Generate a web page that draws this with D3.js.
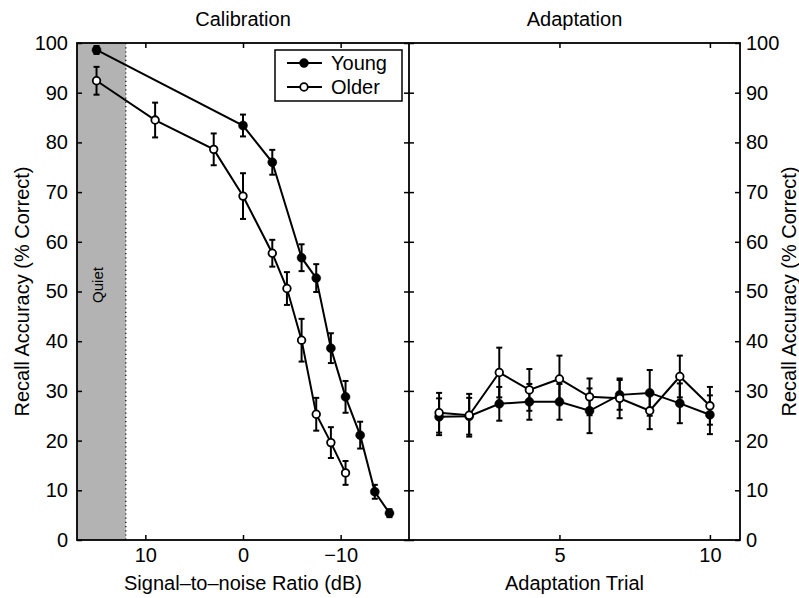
<!DOCTYPE html>
<html><head><meta charset="utf-8">
<script src="https://cdn.jsdelivr.net/npm/d3@7"></script>
<style>
html,body{margin:0;padding:0;background:#fff;}
svg text{font-family:"Liberation Sans",Arial,Helvetica,sans-serif;fill:#000;}
</style></head>
<body>
<svg id="chart" width="799" height="598"></svg>
<script>
// ---- Data ----
const snrYoung = [15, 0, -3, -6, -7.5, -9, -10.5, -12, -13.5, -15];
const accYoung = [98.6, 83.4, 76.0, 56.8, 52.7, 38.6, 28.8, 21.1, 9.7, 5.4];
const errYoung = [0.8, 2.2, 2.5, 2.7, 2.8, 3.0, 3.2, 2.7, 1.4, 0.8];

const snrOlder = [15, 9, 3, 0, -3, -4.5, -6, -7.5, -9, -10.5];
const accOlder = [92.4, 84.5, 78.6, 69.2, 57.7, 50.6, 40.2, 25.3, 19.6, 13.5];
const errOlder = [2.8, 3.5, 3.2, 4.6, 2.7, 3.3, 4.3, 3.3, 3.1, 2.4];

const trials = [1, 2, 3, 4, 5, 6, 7, 8, 9, 10];
const adaptYoung = [24.8, 24.9, 27.4, 27.8, 27.8, 26.0, 29.2, 29.6, 27.5, 25.2];
const adaptYoungErr = [3.7, 3.7, 3.4, 3.6, 3.6, 4.5, 3.0, 4.6, 4.0, 3.9];
const adaptOlder = [25.6, 25.1, 33.7, 30.2, 32.4, 28.8, 28.5, 26.0, 32.9, 27.0];
const adaptOlderErr = [4.0, 4.3, 5.0, 4.2, 4.7, 3.7, 4.0, 3.7, 4.2, 3.8];

const yTicks = [0, 10, 20, 30, 40, 50, 60, 70, 80, 90, 100];
const snrTicks = [10, 0, -10];
const snrTickLabels = ["10", "0", "\u221210"];
const trialTicks = [5, 10];
const quietBand = [17, 12];
const seriesNames = ["Young", "Older"];

// ---- Layout ----
const L = 77, M = 409, R = 740, T = 43, B = 540;
const svg = d3.select("#chart");
const xL = d3.scaleLinear().domain([17, -17]).range([L, M]);
const xR = d3.scaleLinear().domain([0, 11]).range([M, R]);
const y = d3.scaleLinear().domain([0, 100]).range([B, T]);
const FS = 20;

// quiet band
svg.append("rect").attr("x", xL(quietBand[0])).attr("y", T)
  .attr("width", xL(quietBand[1]) - xL(quietBand[0])).attr("height", B - T)
  .attr("fill", "#b3b3b3");
svg.append("line").attr("x1", xL(quietBand[1])).attr("x2", xL(quietBand[1]))
  .attr("y1", T).attr("y2", B).attr("stroke", "#000").attr("stroke-width", 1.2)
  .attr("stroke-dasharray", "1.2,3");
svg.append("text").attr("transform", `translate(${xL(15) + 6},285) rotate(-90)`)
  .attr("text-anchor", "middle").attr("font-size", 15).text("Quiet");

// axes (inward ticks)
function addAxis(axis, tx, ty, labels) {
  const g = svg.append("g").attr("transform", `translate(${tx},${ty})`).call(axis);
  g.select(".domain").remove();
  g.selectAll(".tick line").attr("stroke", "#000").attr("stroke-width", 1.5);
  g.selectAll("text").attr("font-size", FS).attr("font-family", '"Liberation Sans",Arial,sans-serif').attr("fill", "#000");
  if (!labels) g.selectAll("text").remove();
  return g;
}
const TK = 5;
// left panel
addAxis(d3.axisLeft(y).tickValues(yTicks).tickSizeInner(-TK).tickSizeOuter(0).tickPadding(9).tickFormat(d3.format("d")), L, 0, true);
addAxis(d3.axisRight(y).tickValues(yTicks).tickSizeInner(-TK).tickSizeOuter(0), M, 0, false);
addAxis(d3.axisLeft(y).tickValues(yTicks).tickSizeInner(-TK).tickSizeOuter(0), M, 0, false);
addAxis(d3.axisBottom(xL).tickValues(snrTicks).tickSizeInner(-TK).tickSizeOuter(0).tickPadding(8)
  .tickFormat((d, i) => snrTickLabels[i]), 0, B, true);
addAxis(d3.axisTop(xL).tickValues(snrTicks).tickSizeInner(-TK).tickSizeOuter(0), 0, T, false);
// right panel
addAxis(d3.axisRight(y).tickValues(yTicks).tickSizeInner(-TK).tickSizeOuter(0).tickPadding(6).tickFormat(d3.format("d")), R, 0, true);
addAxis(d3.axisBottom(xR).tickValues(trialTicks).tickSizeInner(-TK).tickSizeOuter(0).tickPadding(8).tickFormat(d3.format("d")), 0, B, true);
addAxis(d3.axisTop(xR).tickValues(trialTicks).tickSizeInner(-TK).tickSizeOuter(0), 0, T, false);

// series drawing
function drawSeries(xs, ys, es, xScale, filled) {
  const pts = xs.map((d, i) => ({x: xScale(d), y: y(ys[i]), lo: y(ys[i] - es[i]), hi: y(ys[i] + es[i])}));
  const g = svg.append("g");
  g.append("path").attr("d", d3.line().x(d => d.x).y(d => d.y)(pts))
    .attr("fill", "none").attr("stroke", "#000").attr("stroke-width", 2);
  const eb = g.selectAll(".eb").data(pts).enter().append("g");
  eb.append("line").attr("x1", d => d.x).attr("x2", d => d.x).attr("y1", d => d.lo).attr("y2", d => d.hi)
    .attr("stroke", "#000").attr("stroke-width", 2);
  eb.append("line").attr("x1", d => d.x - 3).attr("x2", d => d.x + 3).attr("y1", d => d.lo).attr("y2", d => d.lo)
    .attr("stroke", "#000").attr("stroke-width", 2);
  eb.append("line").attr("x1", d => d.x - 3).attr("x2", d => d.x + 3).attr("y1", d => d.hi).attr("y2", d => d.hi)
    .attr("stroke", "#000").attr("stroke-width", 2);
  g.selectAll("circle").data(pts).enter().append("circle")
    .attr("cx", d => d.x).attr("cy", d => d.y).attr("r", filled ? 4.5 : 3.8)
    .attr("fill", filled ? "#000" : "#fff").attr("stroke", "#000").attr("stroke-width", filled ? 0.5 : 1.8);
}
drawSeries(snrYoung, accYoung, errYoung, xL, true);
drawSeries(snrOlder, accOlder, errOlder, xL, false);
drawSeries(trials, adaptYoung, adaptYoungErr, xR, true);
drawSeries(trials, adaptOlder, adaptOlderErr, xR, false);

// frames
svg.append("rect").attr("x", L).attr("y", T).attr("width", R - L).attr("height", B - T)
  .attr("fill", "none").attr("stroke", "#000").attr("stroke-width", 1.8);
svg.append("line").attr("x1", M).attr("x2", M).attr("y1", T).attr("y2", B)
  .attr("stroke", "#000").attr("stroke-width", 1.8);

// titles
svg.append("text").attr("x", (L + M) / 2).attr("y", 26).attr("text-anchor", "middle").attr("font-size", FS).text("Calibration");
svg.append("text").attr("x", (M + R) / 2).attr("y", 26).attr("text-anchor", "middle").attr("font-size", FS).text("Adaptation");
svg.append("text").attr("x", (L + M) / 2).attr("y", 590).attr("text-anchor", "middle").attr("font-size", FS).text("Signal\u2013to\u2013noise Ratio (dB)");
svg.append("text").attr("x", (M + R) / 2).attr("y", 590).attr("text-anchor", "middle").attr("font-size", FS).text("Adaptation Trial");
svg.append("text").attr("transform", `translate(29,${(T + B) / 2}) rotate(-90)`).attr("text-anchor", "middle").attr("font-size", FS).text("Recall Accuracy (% Correct)");
svg.append("text").attr("transform", `translate(796,${(T + B) / 2}) rotate(-90)`).attr("text-anchor", "middle").attr("font-size", FS).text("Recall Accuracy (% Correct)");

// legend
const lg = svg.append("g");
lg.append("rect").attr("x", 275).attr("y", 50).attr("width", 127).attr("height", 51)
  .attr("fill", "#fff").attr("stroke", "#000").attr("stroke-width", 1.5);
seriesNames.forEach((name, i) => {
  const cy = 63 + i * 24;
  lg.append("line").attr("x1", 287).attr("x2", 322).attr("y1", cy).attr("y2", cy).attr("stroke", "#000").attr("stroke-width", 2);
  lg.append("circle").attr("cx", 304).attr("cy", cy).attr("r", i === 0 ? 4.5 : 3.8)
    .attr("fill", i === 0 ? "#000" : "#fff").attr("stroke", "#000").attr("stroke-width", i === 0 ? 0.5 : 1.8);
  lg.append("text").attr("x", 331).attr("y", cy + 7).attr("font-size", FS).text(name);
});
</script>
</body></html>
